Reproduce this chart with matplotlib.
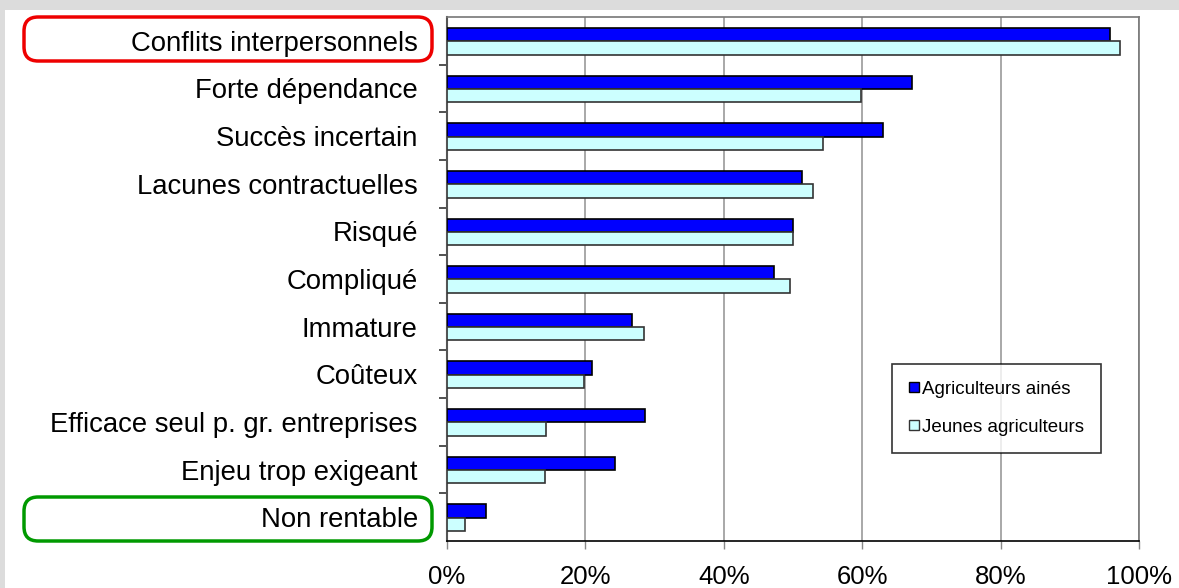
import numpy as np
import matplotlib.pyplot as plt
from matplotlib.patches import FancyBboxPatch, Rectangle
from matplotlib.lines import Line2D

plt.rcParams['font.family'] = ['Liberation Sans', 'DejaVu Sans']

categories = ['Conflits interpersonnels', 'Forte dépendance', 'Succès incertain',
              'Lacunes contractuelles', 'Risqué', 'Compliqué', 'Immature', 'Coûteux',
              'Efficace seul p. gr. entreprises', 'Enjeu trop exigeant', 'Non rentable']
aines = [95.8, 67.2, 63.0, 51.3, 50.0, 47.3, 26.7, 21.0, 28.6, 24.3, 5.6]
jeunes = [97.3, 59.8, 54.3, 52.9, 50.0, 49.6, 28.5, 19.8, 14.3, 14.2, 2.6]
xticks = [0, 20, 40, 60, 80, 100]
xlabels = ['0%', '20%', '40%', '60%', '80%', '100%']

W, H = 1179, 588
fig = plt.figure(figsize=(W/100, H/100), dpi=100)
fig.patch.set_facecolor('#dcdcdc')
fig.patches.append(Rectangle((5/W, 0), 1, 1 - 10/H, transform=fig.transFigure,
                             facecolor='white', edgecolor='none', zorder=-10))

ax = fig.add_axes([447/W, 1 - 541/H, (1139-447)/W, (541-17)/H])
y = np.arange(len(categories))
h = 0.28
ax.barh(y - 0.13, aines, height=h, color='#0000ff', edgecolor='black', linewidth=1.2, zorder=3)
ax.barh(y + 0.15, jeunes, height=h, color='#ccffff', edgecolor='#333333', linewidth=1.2, zorder=3)

ax.set_xlim(0, 100)
ax.set_ylim(len(categories) - 0.5, -0.5)
ax.set_xticks(xticks)
ax.set_xticklabels(xlabels, fontsize=18.5)
ax.tick_params(axis='x', length=6, width=1, color='#888888', pad=11)
ax.set_yticks(y)
ax.set_yticklabels(categories, fontsize=19.8)
ax.tick_params(axis='y', which='major', length=0, pad=21)
ax.set_yticks(np.arange(0.5, len(categories) - 1, 1), minor=True)
ax.tick_params(axis='y', which='minor', length=6, width=1.2, color='#333333')
ax.grid(axis='x', color='#999999', linewidth=1.2, zorder=0)
for s in ['top', 'right']:
    ax.spines[s].set_color('#777777')
    ax.spines[s].set_linewidth(1.2)
ax.spines['left'].set_color('#555555')
ax.spines['left'].set_linewidth(1.5)
ax.spines['bottom'].set_color('black')
ax.spines['bottom'].set_linewidth(1.2)

handles = [Line2D([], [], linestyle='none', marker='s', markersize=7.5, markerfacecolor='#0000ff',
                  markeredgecolor='black'),
           Line2D([], [], linestyle='none', marker='s', markersize=7.5, markerfacecolor='#ccffff',
                  markeredgecolor='#333333')]
leg = ax.legend(handles, ['Agriculteurs ainés', 'Jeunes agriculteurs'], fontsize=13.5,
                loc='upper left', bbox_to_anchor=(892/W, 1 - 364/H), bbox_transform=fig.transFigure,
                frameon=True, fancybox=False, edgecolor='black', handlelength=0.5,
                handletextpad=0.2, labelspacing=1.1, borderpad=0.9, borderaxespad=0)
leg.get_frame().set_linewidth(1.2)
leg.set_zorder(5)

for (y0, y1, col) in [(17, 61, '#ee0000'), (497, 541, '#009900')]:
    fig.patches.append(FancyBboxPatch((24/W, 1 - y1/H), (432-24)/W, (y1-y0)/H,
                                      boxstyle='round,pad=0,rounding_size=0.012',
                                      transform=fig.transFigure, facecolor='none',
                                      edgecolor=col, linewidth=2.5, mutation_aspect=W/H))

fig.savefig('out.png', dpi=100)
